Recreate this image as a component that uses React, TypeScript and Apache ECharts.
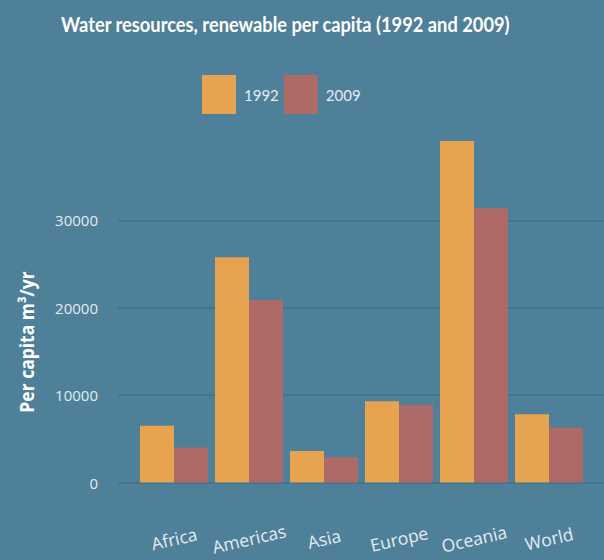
import React, { useEffect, useRef } from "react";
import * as echarts from "echarts";

const categories = ["Africa", "Americas", "Asia", "Europe", "Oceania", "World"];
const values1992 = [6500, 25800, 3600, 9300, 39100, 7800];
const values2009 = [4000, 20900, 2900, 8900, 31400, 6300];
const yTicks = [0, 10000, 20000, 30000];
const seriesNames = ["1992", "2009"];

const BG = "#4e8099";
const GRID_LINE = "#47738c";
const ORANGE = "#e8a350";
const MAUVE = "#ad6a67";
const LABEL = "#e4ecf1";

export default function App() {
  const ref = useRef<HTMLDivElement>(null);
  useEffect(() => {
    if (!ref.current) return;
    const chart = echarts.init(ref.current, undefined, { renderer: "svg" });
    const yMax = Math.max(...values1992, ...values2009);
    const top = 141;
    const bottom = 77.5;
    chart.setOption({
      animation: false,
      backgroundColor: BG,
      legend: {
        left: 202,
        top: 75,
        padding: 0,
        itemWidth: 34,
        itemHeight: 39,
        itemGap: 5,
        icon: "rect",
        data: seriesNames,
        textStyle: {
          color: LABEL,
          fontSize: 15,
          padding: [0, 0, 0, 3],
          fontFamily: "Lato, sans-serif",
        },
      },
      grid: [
        { left: 118, right: 0, top, bottom },
        { left: 136.5, right: 17.5, top, bottom },
      ],
      xAxis: [
        { type: "category", gridIndex: 0, data: categories, show: false },
        {
          type: "category",
          gridIndex: 1,
          data: categories,
          axisLine: { show: false },
          axisTick: { show: false },
          axisLabel: {
            interval: 0,
            rotate: 13,
            align: "center",
            verticalAlign: "middle",
            margin: 56,
            color: LABEL,
            fontSize: 17.5,
            fontFamily: "'Open Sans', sans-serif",
          },
        },
      ],
      yAxis: [
        {
          type: "value",
          gridIndex: 0,
          min: 0,
          max: yMax,
          interval: yTicks[1] - yTicks[0],
          axisLine: { show: false },
          axisTick: { show: false },
          axisLabel: {
            showMaxLabel: false,
            margin: 20,
            color: LABEL,
            fontSize: 15,
            fontFamily: "'Open Sans', sans-serif",
            formatter: (v: number) => String(v),
          },
          splitLine: {
            show: true,
            showMaxLine: false,
            lineStyle: { color: [GRID_LINE, GRID_LINE, GRID_LINE, GRID_LINE, "rgba(0,0,0,0)"], width: 2 },
          },
        },
        {
          type: "value",
          gridIndex: 1,
          min: 0,
          max: yMax,
          show: false,
          splitLine: { show: false },
        },
      ],
      series: [
        {
          name: seriesNames[0],
          type: "bar",
          xAxisIndex: 1,
          yAxisIndex: 1,
          data: values1992,
          barWidth: 34,
          barGap: "0%",
          itemStyle: { color: ORANGE },
        },
        {
          name: seriesNames[1],
          type: "bar",
          xAxisIndex: 1,
          yAxisIndex: 1,
          data: values2009,
          barWidth: 34,
          barGap: "0%",
          itemStyle: { color: MAUVE },
        },
      ],
      graphic: [
        {
          type: "text",
          x: 61,
          y: 23,
          scaleX: 0.85,
          style: {
            text: "Water resources, renewable per capita (1992 and 2009)",
            fill: "#ffffff",
            fontSize: 21.5,
            fontWeight: "bold",
            fontFamily: "Lato, sans-serif",
            textAlign: "left",
            textVerticalAlign: "middle",
          },
        },
        {
          type: "text",
          x: 26,
          y: 342,
          rotation: Math.PI / 2,
          scaleX: 0.92,
          style: {
            text: "Per capita m³/yr",
            fill: "#ffffff",
            fontSize: 19,
            fontWeight: "bold",
            fontFamily: "'Open Sans', sans-serif",
            textAlign: "center",
            textVerticalAlign: "middle",
          },
        },
      ],
    });
    return () => chart.dispose();
  }, []);
  return (
    <div
      ref={ref}
      style={{ position: "fixed", left: 0, top: 0, width: 604, height: 560 }}
    />
  );
}
